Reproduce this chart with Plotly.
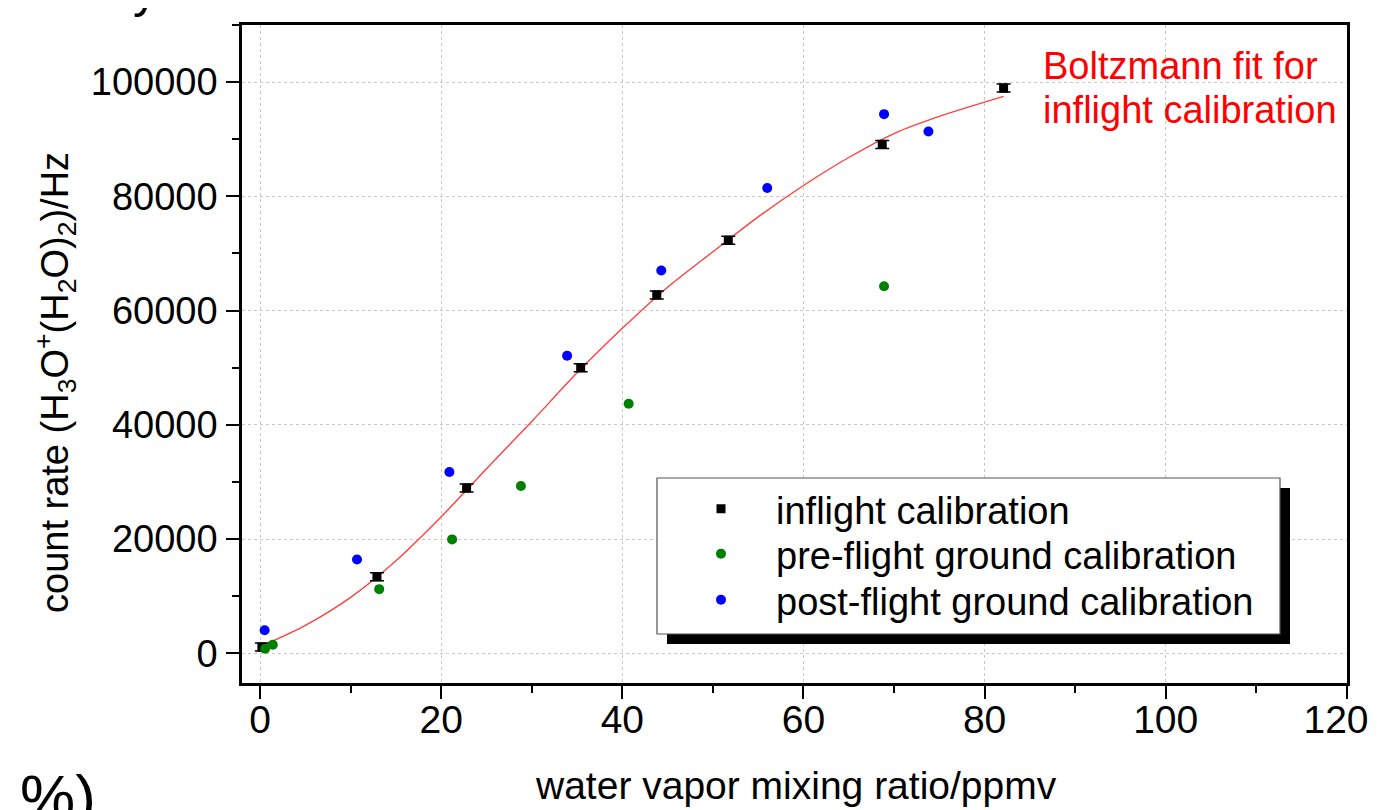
import plotly.graph_objects as go

# ---- data ----
inflight_x = [0.2, 12.9, 22.8, 35.4, 43.8, 51.7, 68.7, 82.1]
inflight_y = [1100, 13400, 28950, 50000, 62750, 72300, 89100, 98950]
inflight_err = [700, 700, 700, 700, 700, 700, 700, 700]

pre_x = [0.55, 1.4, 13.15, 21.2, 28.8, 40.7, 68.9]
pre_y = [800, 1500, 11230, 19940, 29300, 43680, 64270]

post_x = [0.5, 10.7, 20.9, 33.9, 44.3, 56.0, 68.9, 73.8]
post_y = [4035, 16430, 31750, 52100, 67020, 81450, 94390, 91350]

# Boltzmann fit curve
fit_x = [0.2, 5, 10, 15, 20, 25, 30, 35, 40, 45, 50, 55, 60, 65, 70, 75, 82.1]
fit_y = [1300, 4900, 9800, 16200, 23900, 32300, 40600, 49100, 56900, 64100, 70300,
         76400, 81900, 86800, 91000, 94000, 97500]

x_ticks = [0, 20, 40, 60, 80, 100, 120]
x_ticktext = ["0", "20", "40", "60", "80", "100", "120\u2007"]
y_ticks = [0, 20000, 40000, 60000, 80000, 100000]

ARIAL = "Liberation Sans, Arial, sans-serif"

fig = go.Figure()

fig.add_trace(go.Scatter(
    x=fit_x, y=fit_y, mode="lines",
    line=dict(color="#ff4040", width=1.4, shape="spline", smoothing=0.8),
    showlegend=False, hoverinfo="skip"))

fig.add_trace(go.Scatter(
    x=inflight_x, y=inflight_y, mode="markers", name="inflight calibration",
    marker=dict(symbol="square", size=9, color="black"),
    error_y=dict(type="data", array=inflight_err, visible=True, color="black", thickness=1.5, width=7),
    legend="legend"))

fig.add_trace(go.Scatter(
    x=pre_x, y=pre_y, mode="markers", name="pre-flight ground calibration",
    marker=dict(symbol="circle", size=10, color="#008000"),
    legend="legend2"))

fig.add_trace(go.Scatter(
    x=post_x, y=post_y, mode="markers", name="post-flight ground calibration",
    marker=dict(symbol="circle", size=10, color="#0000ff"),
    legend="legend3"))

# page body has an 8px margin -> figure drawn 8px right/down of viewport origin
OFF = 8
W, H = 1381 - OFF, 810 - OFF
PL, PR, PT, PB = 242, 1347, 25, 683  # plot area in screen pixels
L, T = PL - OFF, PT - OFF
R, B = 1381 - PR, 810 - PB
pw, ph = PR - PL, PB - PT


def px(xp):
    return (xp - PL) / pw


def py(yp):
    return (PB - yp) / ph


def leg(yc):
    return dict(x=px(666), y=py(yc), xanchor="left", yanchor="middle",
                bgcolor="rgba(0,0,0,0)", borderwidth=0,
                font=dict(family=ARIAL, size=38, color="black"),
                itemwidth=100)


fig.update_layout(
    width=W, height=H,
    margin=dict(l=L, r=R, t=T, b=B, autoexpand=False),
    paper_bgcolor="white", plot_bgcolor="white",
    showlegend=True,
    legend=leg(509), legend2=leg(554), legend3=leg(600),
)

fig.update_xaxes(
    range=[-2, 120.02], tickvals=x_ticks, ticktext=x_ticktext,
    showline=True, linecolor="black", linewidth=2.5, mirror=True,
    ticks="outside", ticklen=13, tickwidth=2, tickcolor="black",
    minor=dict(dtick=10, ticklen=7, tickwidth=2, tickcolor="black", ticks="outside", showgrid=False),
    showgrid=True, gridcolor="#c8c8c8", griddash="dot", gridwidth=1,
    zeroline=False, ticklabelstandoff=-13, ticklabeloverflow="allow",
    tickfont=dict(family=ARIAL, size=39, color="black"),
)
fig.update_yaxes(
    range=[-5200, 110000], tickvals=y_ticks, ticktext=[str(v) for v in y_ticks],
    showline=True, linecolor="black", linewidth=2.5, mirror=True,
    ticks="outside", ticklen=13, tickwidth=2, tickcolor="black",
    minor=dict(dtick=10000, ticklen=7, tickwidth=2, tickcolor="black", ticks="outside", showgrid=False),
    showgrid=True, gridcolor="#c8c8c8", griddash="dot", gridwidth=1,
    zeroline=False, ticklabelstandoff=1,
    tickfont=dict(family=ARIAL, size=38, color="black"),
)

# legend box with shadow
fig.add_shape(type="rect", xref="paper", yref="paper",
              x0=px(667), x1=px(1290), y0=py(644), y1=py(488),
              fillcolor="black", line=dict(width=0), layer="above")
fig.add_shape(type="rect", xref="paper", yref="paper",
              x0=px(657), x1=px(1280), y0=py(634), y1=py(478),
              fillcolor="white", line=dict(color="#555555", width=1.2), layer="above")

# annotations
fig.add_annotation(text="Boltzmann fit for", xref="paper", yref="paper",
                   x=px(1041), y=py(66), xanchor="left", yanchor="middle", showarrow=False,
                   font=dict(family=ARIAL, size=38, color="#ff0000"))
fig.add_annotation(text="inflight calibration", xref="paper", yref="paper",
                   x=px(1041), y=py(110), xanchor="left", yanchor="middle", showarrow=False,
                   font=dict(family=ARIAL, size=38, color="#ff0000"))

fig.add_annotation(text="water vapor mixing ratio/ppmv", xref="paper", yref="paper",
                   x=px(796), y=py(785), xanchor="center", yanchor="middle", showarrow=False,
                   font=dict(family=ARIAL, size=39, color="black"))
fig.add_annotation(text="count rate (H<sub>3</sub>O<sup>+</sup>(H<sub>2</sub>O)<sub>2</sub>)/Hz",
                   xref="paper", yref="paper", textangle=-90,
                   x=px(55), y=py(383), xanchor="center", yanchor="middle", showarrow=False,
                   font=dict(family=ARIAL, size=38, color="black"))

# cropped text fragments at the figure edges
fig.add_annotation(text="%)", xref="paper", yref="paper",
                   x=px(58), y=py(760), xanchor="center", yanchor="top", showarrow=False,
                   font=dict(family=ARIAL, size=62, color="black"))
fig.add_annotation(text="y", xref="paper", yref="paper",
                   x=px(145), y=py(20), xanchor="center", yanchor="bottom", showarrow=False,
                   font=dict(family=ARIAL, size=50, color="black"))

fig.write_html(
    "out.html",
    post_script="document.documentElement.style.overflow='hidden';document.body.style.overflow='hidden';",
)
